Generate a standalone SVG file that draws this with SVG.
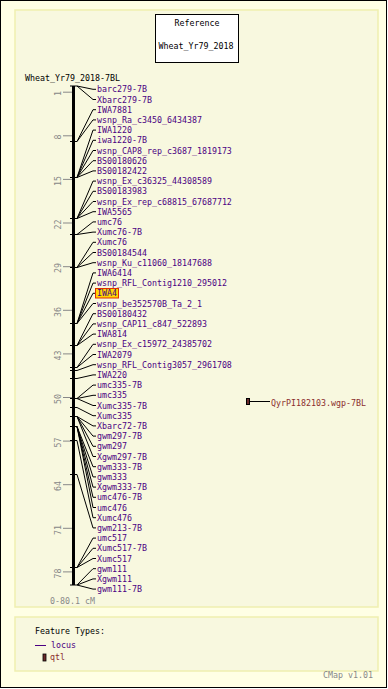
<svg xmlns="http://www.w3.org/2000/svg" width="388" height="689" viewBox="0 0 388 689">
<style>
text{font-family:"DejaVu Sans Mono","Liberation Mono",monospace;font-size:8.3px}
.blk{fill:#000}
.lab{fill:#4b0082}
.gry{fill:#888}
.qtl{fill:#8b2e2e}
.conn{fill:none;stroke:#000;stroke-width:1}
.mk{stroke:#000;stroke-width:1}
.sc{stroke:#888;stroke-width:1}
</style>
<rect x="0.5" y="0.5" width="386" height="687" fill="#ffffe5" stroke="#000"/>
<rect x="15" y="10" width="363" height="597" fill="#f8f8df" stroke="#efefb0" stroke-width="1.5"/>
<rect x="15" y="617" width="363" height="54" fill="#f8f8df" stroke="#efefb0" stroke-width="1.5"/>
<g id="title">
<rect x="155.5" y="14.5" width="83" height="48" fill="#fff" stroke="#000"/>
<text class="blk" x="197" y="25.5" text-anchor="middle">Reference</text>
<text class="blk" x="196" y="49" text-anchor="middle">Wheat_Yr79_2018</text>
</g>
<g id="map">
<text class="blk" x="25" y="81">Wheat_Yr79_2018-7BL</text>
<line x1="73.5" y1="86" x2="73.5" y2="585" stroke="#000" stroke-width="3"/>
<line x1="70" y1="86" x2="77" y2="86" class="mk"/>
<line x1="70" y1="585" x2="77" y2="585" class="mk"/>
<g id="scale">
<line x1="63" y1="92.2" x2="72" y2="92.2" class="sc"/>
<line x1="63" y1="135.8" x2="72" y2="135.8" class="sc"/>
<line x1="63" y1="179.4" x2="72" y2="179.4" class="sc"/>
<line x1="63" y1="223" x2="72" y2="223" class="sc"/>
<line x1="63" y1="266.7" x2="72" y2="266.7" class="sc"/>
<line x1="63" y1="310.3" x2="72" y2="310.3" class="sc"/>
<line x1="63" y1="353.9" x2="72" y2="353.9" class="sc"/>
<line x1="63" y1="397.5" x2="72" y2="397.5" class="sc"/>
<line x1="63" y1="441.1" x2="72" y2="441.1" class="sc"/>
<line x1="63" y1="484.7" x2="72" y2="484.7" class="sc"/>
<line x1="63" y1="528.3" x2="72" y2="528.3" class="sc"/>
<line x1="63" y1="571.9" x2="72" y2="571.9" class="sc"/>
<text class="gry" text-anchor="middle" transform="translate(61,93.5) rotate(-90)">1</text>
<text class="gry" text-anchor="middle" transform="translate(61,137) rotate(-90)">8</text>
<text class="gry" text-anchor="middle" transform="translate(61,181) rotate(-90)">15</text>
<text class="gry" text-anchor="middle" transform="translate(61,224.5) rotate(-90)">22</text>
<text class="gry" text-anchor="middle" transform="translate(61,268) rotate(-90)">29</text>
<text class="gry" text-anchor="middle" transform="translate(61,312) rotate(-90)">36</text>
<text class="gry" text-anchor="middle" transform="translate(61,355.5) rotate(-90)">43</text>
<text class="gry" text-anchor="middle" transform="translate(61,399) rotate(-90)">50</text>
<text class="gry" text-anchor="middle" transform="translate(61,442.5) rotate(-90)">57</text>
<text class="gry" text-anchor="middle" transform="translate(61,486) rotate(-90)">64</text>
<text class="gry" text-anchor="middle" transform="translate(61,530) rotate(-90)">71</text>
<text class="gry" text-anchor="middle" transform="translate(61,573.5) rotate(-90)">78</text>
<text class="gry" x="50" y="604">0-80.1 cM</text>
</g>
<g id="marks">
<line x1="70" y1="141.5" x2="77" y2="141.5" class="mk"/>
<line x1="70" y1="177.5" x2="77" y2="177.5" class="mk"/>
<line x1="70" y1="218.5" x2="77" y2="218.5" class="mk"/>
<line x1="70" y1="234.5" x2="77" y2="234.5" class="mk"/>
<line x1="70" y1="267.5" x2="77" y2="267.5" class="mk"/>
<line x1="70" y1="323.5" x2="77" y2="323.5" class="mk"/>
<line x1="70" y1="345.5" x2="77" y2="345.5" class="mk"/>
<line x1="70" y1="367.5" x2="77" y2="367.5" class="mk"/>
<line x1="70" y1="370.5" x2="77" y2="370.5" class="mk"/>
<line x1="70" y1="378.5" x2="77" y2="378.5" class="mk"/>
<line x1="70" y1="398.5" x2="77" y2="398.5" class="mk"/>
<line x1="70" y1="407.5" x2="77" y2="407.5" class="mk"/>
<line x1="70" y1="416.5" x2="77" y2="416.5" class="mk"/>
<line x1="70" y1="426.5" x2="77" y2="426.5" class="mk"/>
<line x1="70" y1="440.5" x2="77" y2="440.5" class="mk"/>
<line x1="70" y1="474.5" x2="77" y2="474.5" class="mk"/>
<line x1="70" y1="567.5" x2="77" y2="567.5" class="mk"/>
</g>
</g>
<g id="connectors">
<polyline class="conn" points="77,86 93,89.3 96,89.3"/>
<polyline class="conn" points="77,86 93,99.5 96,99.5"/>
<polyline class="conn" points="77,141.5 93,109.7 96,109.7"/>
<polyline class="conn" points="77,141.5 93,119.9 96,119.9"/>
<polyline class="conn" points="77,177.5 93,130.1 96,130.1"/>
<polyline class="conn" points="77,177.5 93,140.3 96,140.3"/>
<polyline class="conn" points="77,177.5 93,150.5 96,150.5"/>
<polyline class="conn" points="77,177.5 93,160.7 96,160.7"/>
<polyline class="conn" points="77,177.5 93,170.9 96,170.9"/>
<polyline class="conn" points="77,218.5 93,181.1 96,181.1"/>
<polyline class="conn" points="77,218.5 93,191.3 96,191.3"/>
<polyline class="conn" points="77,218.5 93,201.5 96,201.5"/>
<polyline class="conn" points="77,218.5 93,211.7 96,211.7"/>
<polyline class="conn" points="77,234.5 93,221.9 96,221.9"/>
<polyline class="conn" points="77,234.5 93,232.1 96,232.1"/>
<polyline class="conn" points="77,267.5 93,242.3 96,242.3"/>
<polyline class="conn" points="77,267.5 93,252.5 96,252.5"/>
<polyline class="conn" points="77,267.5 93,262.7 96,262.7"/>
<polyline class="conn" points="77,323.5 93,272.9 96,272.9"/>
<polyline class="conn" points="77,323.5 93,283.1 96,283.1"/>
<polyline class="conn" points="77,323.5 93,293.3 95,293.3"/>
<polyline class="conn" points="77,323.5 93,303.5 96,303.5"/>
<polyline class="conn" points="77,345.5 93,313.7 96,313.7"/>
<polyline class="conn" points="77,345.5 93,323.9 96,323.9"/>
<polyline class="conn" points="77,345.5 93,334.1 96,334.1"/>
<polyline class="conn" points="77,367.5 93,344.3 96,344.3"/>
<polyline class="conn" points="77,367.5 93,354.5 96,354.5"/>
<polyline class="conn" points="77,370.5 93,364.7 96,364.7"/>
<polyline class="conn" points="77,378.5 93,374.9 96,374.9"/>
<polyline class="conn" points="77,398.5 93,385.1 96,385.1"/>
<polyline class="conn" points="77,398.5 93,395.3 96,395.3"/>
<polyline class="conn" points="77,398.5 93,405.5 96,405.5"/>
<polyline class="conn" points="77,407.5 93,415.7 96,415.7"/>
<polyline class="conn" points="77,416.5 93,425.9 96,425.9"/>
<polyline class="conn" points="77,416.5 93,436.1 96,436.1"/>
<polyline class="conn" points="77,416.5 93,446.3 96,446.3"/>
<polyline class="conn" points="77,416.5 93,456.5 96,456.5"/>
<polyline class="conn" points="77,426.5 93,466.7 96,466.7"/>
<polyline class="conn" points="77,426.5 93,476.9 96,476.9"/>
<polyline class="conn" points="77,426.5 93,487.1 96,487.1"/>
<polyline class="conn" points="77,426.5 93,497.3 96,497.3"/>
<polyline class="conn" points="77,426.5 93,507.5 96,507.5"/>
<polyline class="conn" points="77,440.5 93,517.7 96,517.7"/>
<polyline class="conn" points="77,474.5 93,527.9 96,527.9"/>
<polyline class="conn" points="77,567.5 93,538.1 96,538.1"/>
<polyline class="conn" points="77,567.5 93,548.3 96,548.3"/>
<polyline class="conn" points="77,567.5 93,558.5 96,558.5"/>
<polyline class="conn" points="77,585 93,568.7 96,568.7"/>
<polyline class="conn" points="77,585 93,578.9 96,578.9"/>
<polyline class="conn" points="77,585 93,589.1 96,589.1"/>
<line x1="250" y1="401.5" x2="270" y2="401.5" stroke="#000"/>
</g>
<g id="loci">
<rect x="95.5" y="288.5" width="23" height="9.5" fill="#ffd700" stroke="#e03000"/>
<text class="lab" x="97" y="92.3">barc279-7B</text>
<text class="lab" x="97" y="102.5">Xbarc279-7B</text>
<text class="lab" x="97" y="112.7">IWA7881</text>
<text class="lab" x="97" y="122.9">wsnp_Ra_c3450_6434387</text>
<text class="lab" x="97" y="133.1">IWA1220</text>
<text class="lab" x="97" y="143.3">iwa1220-7B</text>
<text class="lab" x="97" y="153.5">wsnp_CAP8_rep_c3687_1819173</text>
<text class="lab" x="97" y="163.7">BS00180626</text>
<text class="lab" x="97" y="173.9">BS00182422</text>
<text class="lab" x="97" y="184.1">wsnp_Ex_c36325_44308589</text>
<text class="lab" x="97" y="194.3">BS00183983</text>
<text class="lab" x="97" y="204.5">wsnp_Ex_rep_c68815_67687712</text>
<text class="lab" x="97" y="214.7">IWA5565</text>
<text class="lab" x="97" y="224.9">umc76</text>
<text class="lab" x="97" y="235.1">Xumc76-7B</text>
<text class="lab" x="97" y="245.3">Xumc76</text>
<text class="lab" x="97" y="255.5">BS00184544</text>
<text class="lab" x="97" y="265.7">wsnp_Ku_c11060_18147688</text>
<text class="lab" x="97" y="275.9">IWA6414</text>
<text class="lab" x="97" y="286.1">wsnp_RFL_Contig1210_295012</text>
<text class="lab" x="97" y="296.3">IWA4</text>
<text class="lab" x="97" y="306.5">wsnp_be352570B_Ta_2_1</text>
<text class="lab" x="97" y="316.7">BS00180432</text>
<text class="lab" x="97" y="326.9">wsnp_CAP11_c847_522893</text>
<text class="lab" x="97" y="337.1">IWA814</text>
<text class="lab" x="97" y="347.3">wsnp_Ex_c15972_24385702</text>
<text class="lab" x="97" y="357.5">IWA2079</text>
<text class="lab" x="97" y="367.7">wsnp_RFL_Contig3057_2961708</text>
<text class="lab" x="97" y="377.9">IWA220</text>
<text class="lab" x="97" y="388.1">umc335-7B</text>
<text class="lab" x="97" y="398.3">umc335</text>
<text class="lab" x="97" y="408.5">Xumc335-7B</text>
<text class="lab" x="97" y="418.7">Xumc335</text>
<text class="lab" x="97" y="428.9">Xbarc72-7B</text>
<text class="lab" x="97" y="439.1">gwm297-7B</text>
<text class="lab" x="97" y="449.3">gwm297</text>
<text class="lab" x="97" y="459.5">Xgwm297-7B</text>
<text class="lab" x="97" y="469.7">gwm333-7B</text>
<text class="lab" x="97" y="479.9">gwm333</text>
<text class="lab" x="97" y="490.1">Xgwm333-7B</text>
<text class="lab" x="97" y="500.3">umc476-7B</text>
<text class="lab" x="97" y="510.5">umc476</text>
<text class="lab" x="97" y="520.7">Xumc476</text>
<text class="lab" x="97" y="530.9">gwm213-7B</text>
<text class="lab" x="97" y="541.1">umc517</text>
<text class="lab" x="97" y="551.3">Xumc517-7B</text>
<text class="lab" x="97" y="561.5">Xumc517</text>
<text class="lab" x="97" y="571.7">gwm111</text>
<text class="lab" x="97" y="581.9">Xgwm111</text>
<text class="lab" x="97" y="592.1">gwm111-7B</text>
</g>
<g id="qtl">
<rect x="246.5" y="398.5" width="3" height="6" fill="#6b2a2a" stroke="#000"/>
<text class="qtl" x="271" y="405.5">QyrPI182103.wgp-7BL</text>
</g>
<g id="legend">
<text class="blk" x="35" y="634">Feature Types:</text>
<line x1="35" y1="645.5" x2="46" y2="645.5" stroke="#4b0082"/>
<text class="lab" x="51" y="648">locus</text>
<rect x="43" y="654" width="3" height="7" fill="#6b2a2a" stroke="#000" stroke-width="0.8"/>
<text class="qtl" x="50" y="660">qtl</text>
</g>
<text class="gry" x="323" y="678">CMap v1.01</text>
</svg>
